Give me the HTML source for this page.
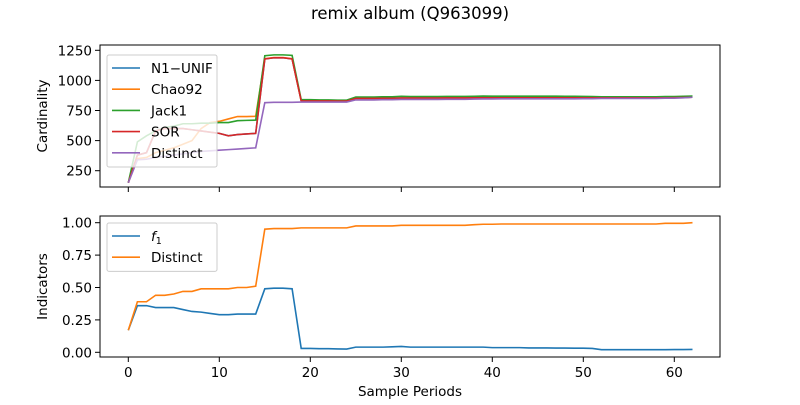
<!DOCTYPE html>
<html><head><meta charset="utf-8"><style>
body{margin:0;background:#fff;font-family:"Liberation Sans","DejaVu Sans",sans-serif;}
svg text{font-family:"DejaVu Sans","Liberation Sans",sans-serif;fill:#000;}
</style></head><body>
<svg id="c" width="800" height="400" xmlns="http://www.w3.org/2000/svg">
<text x="410" y="19" font-size="16.5" text-anchor="middle">remix album (Q963099)</text>
</svg>
<script>
const distinct=[150,340,345,360,370,380,390,400,410,415,420,425,430,435,440,815,818,818,818,820,820,820,820,820,820,838,838,838,840,840,842,842,842,842,842,843,843,843,845,846,846,847,847,847,847,847,847,847,847,847,848,848,850,850,850,850,850,850,850,852,852,855,860];
const jack1=[150,490,540,580,610,620,640,640,645,645,650,650,665,668,670,1205,1212,1212,1208,840,840,838,838,836,836,862,862,862,864,864,868,866,866,866,866,867,867,867,868,870,869,869,869,869,869,869,869,869,868,868,867,866,864,864,864,864,864,864,864,866,866,868,870];
const chao=[150,350,360,400,420,440,470,500,600,650,660,680,700,700,702,1180,1190,1190,1180,830,830,830,830,828,828,850,850,850,851,851,853,853,853,853,853,854,854,854,855,856,856,856,856,856,856,856,856,856,856,856,856,855,855,855,855,855,855,855,855,856,857,858,860];
const sor=[150,380,400,580,600,600,600,590,580,570,560,540,550,555,560,1178,1188,1188,1178,830,830,830,830,828,828,850,850,850,851,851,853,853,853,853,853,854,854,854,855,856,856,856,856,856,856,856,856,856,856,856,856,855,855,855,855,855,855,855,855,856,857,858,860];
const n1=sor.slice();
const f1=[0.17,0.36,0.36,0.345,0.345,0.345,0.33,0.315,0.31,0.30,0.29,0.29,0.295,0.295,0.295,0.49,0.495,0.495,0.49,0.03,0.03,0.028,0.028,0.026,0.025,0.04,0.04,0.04,0.04,0.042,0.045,0.04,0.04,0.04,0.04,0.04,0.04,0.04,0.04,0.04,0.036,0.036,0.036,0.036,0.034,0.034,0.034,0.033,0.033,0.032,0.032,0.03,0.02,0.02,0.02,0.02,0.02,0.02,0.02,0.02,0.021,0.021,0.022];
const dist2=[0.17,0.39,0.39,0.44,0.44,0.45,0.47,0.47,0.49,0.49,0.49,0.49,0.50,0.50,0.51,0.95,0.955,0.955,0.955,0.96,0.96,0.96,0.96,0.96,0.96,0.975,0.975,0.975,0.975,0.975,0.98,0.98,0.98,0.98,0.98,0.98,0.98,0.98,0.985,0.988,0.988,0.99,0.99,0.99,0.99,0.99,0.99,0.99,0.99,0.99,0.99,0.99,0.99,0.99,0.99,0.99,0.99,0.99,0.99,0.995,0.995,0.995,1.0];
const xTicks=[0,10,20,30,40,50,60];
const yTopTicks=[250,500,750,1000,1250];
const yBotTicks=[0,0.25,0.5,0.75,1.0];
const NS="http://www.w3.org/2000/svg";
const svg=document.getElementById('c');
const X=v=>128.3+v*9.1;
const Yt=v=>170.7-(v-250)*0.1204;
const Yb=v=>352.3-v*129.6;
const FS=13.5;
function el(t,a){const e=document.createElementNS(NS,t);for(const k in a)e.setAttribute(k,a[k]);svg.appendChild(e);return e;}
function line(arr,Y,color,name){const p=el('polyline',{points:arr.map((v,i)=>X(i)+','+Y(v)).join(' '),fill:'none',stroke:color,'stroke-width':1.6});

}
function axes(top,bot,ticks,Y,fmt,label,name,showX){
 const r=el('rect',{x:100,y:top,width:620,height:bot-top,fill:'none',stroke:'#000','stroke-width':1});
 
 
 ticks.forEach(t=>{const y=Y(t);el('line',{x1:95,x2:100,y1:y,y2:y,stroke:'#000','stroke-width':1});
  const tx=el('text',{x:92,y:y+5,'font-size':FS,'text-anchor':'end'});tx.textContent=fmt(t);
  
  });
 xTicks.forEach(t=>{const x=X(t);el('line',{x1:x,x2:x,y1:bot,y2:bot+5,stroke:'#000','stroke-width':1});
  if(showX){const tx=el('text',{x:x,y:bot+20,'font-size':FS,'text-anchor':'middle'});tx.textContent=t;
  
  }});
 const yl=el('text',{x:0,y:0,'font-size':FS,'text-anchor':'middle',transform:`translate(47,${(top+bot)/2}) rotate(-90)`});yl.textContent=label;
 
 
}
axes(45,187,yTopTicks,Yt,v=>v,'Cardinality','top-axes',false);
axes(216,357,yBotTicks,Yb,v=>v.toFixed(2),'Indicators','bottom-axes',true);
line(n1,Yt,'#1f77b4','series-n1-unif');
line(chao,Yt,'#ff7f0e','series-chao92');
line(jack1,Yt,'#2ca02c','series-jack1');
line(sor,Yt,'#d62728','series-sor');
line(distinct,Yt,'#9467bd','series-distinct');
line(f1,Yb,'#1f77b4','series-f1');
line(dist2,Yb,'#ff7f0e','series-distinct-ratio');
const xl=el('text',{x:410,y:396,'font-size':FS,'text-anchor':'middle'});xl.textContent='Sample Periods';


function legend(x,y,items,name){
 const h=items.length*21.2+6;
 const r=el('rect',{x:x,y:y,width:110,height:h,fill:'#fff','fill-opacity':0.8,stroke:'#ccc','stroke-width':1,rx:2});
 
 
 items.forEach((it,i)=>{const yy=y+13+i*21.2;
  el('line',{x1:x+5,x2:x+33,y1:yy,y2:yy,stroke:it[1],'stroke-width':1.6});
  const t=el('text',{x:x+44,y:yy+5,'font-size':FS});t.innerHTML=it[0];
  
  });
}
legend(107,55,[['N1−UNIF','#1f77b4'],['Chao92','#ff7f0e'],['Jack1','#2ca02c'],['SOR','#d62728'],['Distinct','#9467bd']],'top-legend');
legend(107,223,[['<tspan font-style="italic">f</tspan><tspan font-size="9.5" dy="3">1</tspan>','#1f77b4'],['Distinct','#ff7f0e']],'bottom-legend');
</script>
</body></html>
